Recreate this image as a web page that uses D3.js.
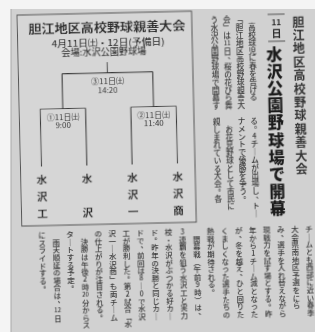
<!DOCTYPE html>
<html>
<head>
<meta charset="utf-8">
<script src="https://cdn.jsdelivr.net/npm/d3@7"></script>
<style>
  body { margin: 0; background: #fff; }
  svg { display: block; }
  text { font-family: "Noto Sans CJK JP", "Noto Sans", sans-serif; }
</style>
</head>
<body>
<svg id="chart" width="315" height="332"></svg>
<script>
// bracket
const teams = ['水沢工', '水沢', '水沢一', '水沢商'];
const matchNums = ['①', '②', '③'];
const matchDays = ['11日㈯', '11日㈯', '11日㈯'];
const matchTimes = ['9:00', '11:40', '14:20'];
const titleLines = ['胆江地区高校野球親善大会', '4月11日㈯・12日(予備日)', '会場:水沢公園野球場'];

// article
const articleHeading = '胆江地区高校野球親善大会';
const articleDate = '11日';
const articleTitle = '水沢公園野球場で開幕';
const tier1 = ['　高校球児に春を告げる', '「胆江地区高校野球親善大', '会」は11日、桜の花びら舞', 'う水沢公園野球場で開幕す'];
const tier2 = ['る。4チームが出場し、トー', 'ナメントで優勝を争う。', '　お花見野球として市民に', '親しまれている大会。各'];
const tier3 = ['チームとも西部に近い春季', '大会県南地区予選をにら', 'み、選手を入れ替えながら', '現戦力を試す場とする。昨',
  '年から1チーム減となった', 'が、冬を越え、ひと回りた', 'くましくなった選手たちの', '熱戦が期待される。',
  '　開幕戦（午前9時）は、', '3連覇を狙う水沢工と実力', '校・水沢がぶつかる好カー', 'ド。昨年の決勝と同じカー',
  'ドで、前回は8－0で水沢', '工が勝利した。第2試合「水', '沢一－水沢商」も両チーム', 'の仕上がりが注目される。',
  '　決勝は午後2時20分からス', 'タートする予定。', '　雨天順延の場合は、12日', 'にスライドする。'];

const svg = d3.select('#chart');

const defs = svg.append('defs');
defs.append('filter').attr('id', 'soft')
  .append('feGaussianBlur').attr('stdDeviation', 0.35);

// paper
svg.append('rect').attr('width', 315).attr('height', 332).attr('fill', '#f4f4f4');
svg.append('rect').attr('x', 11).attr('y', 9).attr('width', 310).attr('height', 330)
  .attr('fill', '#d1d1d1');
svg.append('line').attr('x1', 11).attr('x2', 11).attr('y1', 9).attr('y2', 332)
  .attr('stroke', '#aaa').attr('stroke-width', 1);

const g = svg.append('g')
  .attr('transform', 'rotate(-1.3,157,166)')
  .attr('filter', 'url(#soft)');

// ---- bracket box
g.append('rect')
  .attr('x', 20.5).attr('y', 12).attr('width', 174.5).attr('height', 211)
  .attr('fill', '#d6d6d6').attr('stroke', '#555').attr('stroke-width', 1);

const titleY = [26, 42, 51];
const titleX = [110, 111, 106.5];
const titleW = [157, 113, 85];
const titleFs = [12, 9, 9];
g.append('g').selectAll('text').data(titleLines).join('text')
  .attr('x', (d, i) => titleX[i])
  .attr('y', (d, i) => titleY[i])
  .attr('text-anchor', 'middle')
  .attr('dominant-baseline', 'central')
  .attr('font-size', (d, i) => titleFs[i])
  .attr('font-weight', (d, i) => i === 0 ? 700 : 500)
  .attr('fill', '#2e2e2e')
  .attr('textLength', (d, i) => titleW[i])
  .attr('lengthAdjust', 'spacingAndGlyphs')
  .text(d => d);

const root = d3.hierarchy({
  match: 2,
  children: [0, 1].map(m => ({
    match: m,
    children: [teams[2 * m], teams[2 * m + 1]].map(t => ({ team: t }))
  }))
});

const x = d3.scalePoint().domain(teams).range([41.5, 177.5]);
const y = d3.scaleLinear().domain([-1, 0, 1, 2]).range([61, 71.6, 106.5, 164]);

root.eachAfter(n => {
  n.px = n.children ? d3.mean(n.children, c => c.px) : x(n.data.team);
});

const lines = g.append('g').attr('stroke', '#3a3a3a').attr('stroke-width', 1.1).attr('fill', 'none');

lines.selectAll('line.v').data(root.descendants()).join('line')
  .attr('class', 'v')
  .attr('x1', d => d.px).attr('x2', d => d.px)
  .attr('y1', d => y(d.depth - 1)).attr('y2', d => y(d.depth));

lines.selectAll('line.h').data(root.descendants().filter(d => d.children)).join('line')
  .attr('class', 'h')
  .attr('x1', d => d.children[0].px).attr('x2', d => d.children[1].px)
  .attr('y1', d => y(d.depth)).attr('y2', d => y(d.depth));

const matchNodes = root.descendants().filter(d => d.children);
const labels = g.append('g').attr('fill', '#333').attr('font-size', 8).attr('text-anchor', 'middle')
  .attr('dominant-baseline', 'central');
labels.selectAll('text.day').data(matchNodes).join('text')
  .attr('class', 'day')
  .attr('x', d => d.px).attr('y', d => y(d.depth) + 7.8)
  .text(d => matchNums[d.data.match] + matchDays[d.data.match]);
labels.selectAll('text.time').data(matchNodes).join('text')
  .attr('class', 'time')
  .attr('x', d => d.px).attr('y', d => y(d.depth) + 16.5)
  .text(d => matchTimes[d.data.match]);

// team names, written top to bottom
const teamChars = teams.flatMap(t => Array.from(t).map((c, i, a) => ({ team: t, c, k: a.length > 1 ? i / (a.length - 1) : 0 })));
const ny = d3.scaleLinear().domain([0, 1]).range([177, 211]);
g.append('g').selectAll('text').data(teamChars).join('text')
  .attr('x', d => x(d.team))
  .attr('y', d => ny(d.k))
  .attr('text-anchor', 'middle')
  .attr('dominant-baseline', 'central')
  .attr('font-size', 10.5)
  .attr('font-weight', 700)
  .attr('fill', '#2a2a2a')
  .text(d => d.c);

// ---- vertical text helper
const vForms = { '「': '﹁', '」': '﹂', '（': '︵', '）': '︶', 'ー': '｜', '－': '｜' };
const punct = new Set(['、', '。']);

function vcol(sel, str, cx, top, pitch, fs, weight, fill) {
  const toks = str.match(/\d+|./gu);
  const cy = d3.scaleLinear().domain([0, 1]).range([top + pitch / 2, top + pitch * 1.5]);
  sel.append('g').selectAll('text').data(toks).join('text')
    .attr('x', t => punct.has(t) ? cx + fs * 0.5 : cx)
    .attr('y', (t, i) => punct.has(t) ? cy(i) - fs * 0.5 : cy(i))
    .attr('text-anchor', 'middle')
    .attr('dominant-baseline', 'central')
    .attr('font-size', t => /\d/.test(t) ? fs * (t.length > 1 ? 0.8 : 0.95) : fs)
    .attr('font-weight', weight)
    .attr('fill', fill)
    .text(t => vForms[t] || t);
}

// heading column
vcol(g, articleHeading, 301.5, 17.5, 13.4, 12, 600, '#333');

// date tag
g.append('g').attr('stroke', '#444').attr('stroke-width', 0.9).selectAll('line').data([17, 44]).join('line')
  .attr('x1', 271).attr('x2', 288).attr('y1', d => d).attr('y2', d => d);
vcol(g, articleDate, 279.5, 19, 11, 10, 700, '#2a2a2a');

// big title
vcol(g, articleTitle, 276.8, 47.5, 17.1, 16, 800, '#1f1f1f');

// body tiers
const col1 = d3.scaleLinear().domain([0, 1]).range([255, 242.5]);
tier1.forEach((s, i) => vcol(g, s, col1(i), 17, 7.8, 7.6, 500, '#383838'));
tier2.forEach((s, i) => vcol(g, s, col1(i), 119, 7.7, 7.6, 500, '#383838'));
const col3 = d3.scaleLinear().domain([0, 1]).range([307.4, 293.35]);
tier3.forEach((s, i) => vcol(g, s, col3(i), 228, 7.6, 7.4, 500, '#383838'));
</script>
</body>
</html>
